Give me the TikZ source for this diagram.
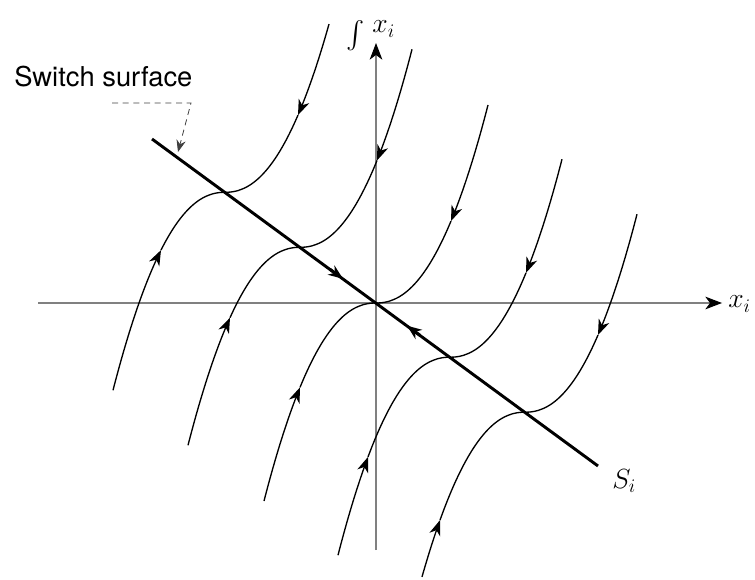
\documentclass[tikz,border=0pt]{standalone}
\usepackage{fontspec}
\usepackage{graphicx}
\newfontfamily\swfont{TeX Gyre Heros}
\usetikzlibrary{arrows.meta}
% cx, cy, top extent, top arrow offset, bottom extent, bottom arrow offset
\newcommand\trajcurve[6]{%
  \draw[traj,trajtip] plot[domain=#3:#4,samples=30] ({#1+\x},{#2-198*(\x/112)^2.2});
  \draw[traj] plot[domain=#4:0.01,samples=50] ({#1+\x},{#2-198*(\x/112)^2.2});
  \draw[traj,trajtip] plot[domain=#5:#6,samples=30] ({#1-\x},{#2+198*(\x/112)^2.2});
  \draw[traj] plot[domain=#6:0.01,samples=50] ({#1-\x},{#2+198*(\x/112)^2.2});
}
\begin{document}
\begin{tikzpicture}[x=0.75pt,y=-0.75pt,
  traj/.style={line width=1pt,black},
  trajtip/.style={-{Stealth[length=11.5pt,width=8.5pt,inset=3.5pt]}},
  axisline/.style={line width=0.8pt,black!50},
  axistip/.style={-{Stealth[length=12.5pt,width=9.5pt,inset=3.5pt,color=black]}},
  switchline/.style={line width=2.2pt,black},
  switchtip/.style={-{Stealth[length=11pt,width=8.5pt,inset=3.5pt]}},
  leader/.style={line width=0.6pt,black!75,dash pattern=on 4.5pt off 3.5pt},
  leadertip/.style={-{Stealth[length=9pt,width=7pt,inset=3pt]}},
  mathlabel/.style={anchor=base west,inner sep=0pt,font=\fontsize{20}{24}\selectfont},
  textlabel/.style={anchor=base west,inner sep=0pt,font=\swfont\fontsize{20.5}{24}\selectfont}]
\useasboundingbox (0,0) rectangle (755,580);
% axes
\coordinate (xa) at (38,303);
\coordinate (xb) at (722,303);
\coordinate (ya) at (376,550);
\coordinate (yb) at (376,43);
\draw[axisline,axistip] (xa) -- (xb);
\draw[axisline,axistip] (ya) -- (yb);
% trajectories
\trajcurve{225}{192.3}{104}{73}{112}{64}
\trajcurve{300}{247.3}{112}{77}{112}{70}
\trajcurve{376}{303}{112}{75}{112}{76}
\trajcurve{450}{357.2}{112}{76}{112}{82}
\trajcurve{525}{412.2}{112}{73}{103}{85}
% switch surface
\coordinate (s1) at (152,139);
\coordinate (s2) at (598,466);
\draw[switchline] (s1) -- (s2);
\coordinate (a1s) at (330,269.3);
\coordinate (a1e) at (343,278.8);
\coordinate (a2s) at (420,335.3);
\coordinate (a2e) at (407,325.7);
\draw[switchline,switchtip] (a1s) -- (a1e);
\draw[switchline,switchtip] (a2s) -- (a2e);
% labels
\node[textlabel] (sw) at (14,87) {Switch surface};
\coordinate (l1) at (112,103);
\coordinate (l2) at (191,103);
\coordinate (l3) at (178,152);
\draw[leader,leadertip] (l1) -- (l2) -- (l3);
\node[mathlabel] (yl) at (346,33) {\raisebox{-12.4pt}{\scalebox{2.05}{$\int$}}\hspace{0.3em}$x_i$};
\node[mathlabel] (xl) at (728,308) {$x_i$};
\node[mathlabel] (sl) at (612,488) {$S_i$};
\end{tikzpicture}
\end{document}
